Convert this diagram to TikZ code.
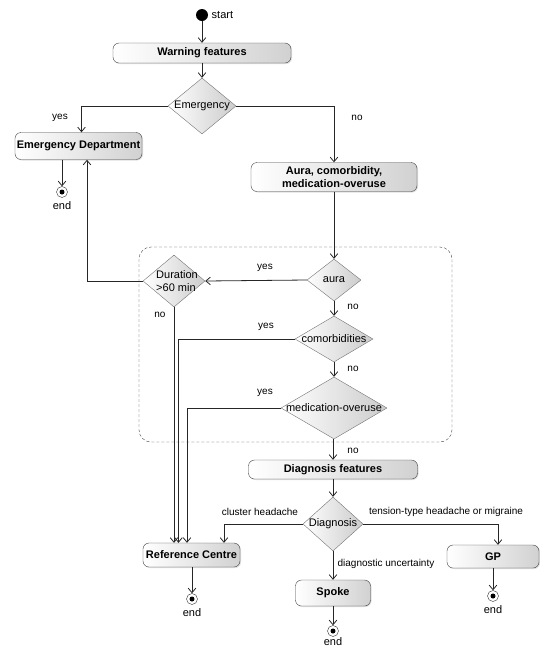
\documentclass[tikz,border=0pt]{standalone}
\usepackage{fontspec}
\setmainfont{Liberation Sans}
\usetikzlibrary{arrows.meta, shapes.geometric, shadows}

\begin{document}
\begin{tikzpicture}[x=1pt, y=-1pt, font=\fontsize{10}{12}\selectfont,
  act/.style={draw=black!75, rounded corners=6pt, left color=white, middle color=white, right color=black!18,
    drop shadow={shadow xshift=1pt, shadow yshift=-1pt, opacity=0.25},
    font=\fontsize{11}{12.5}\selectfont\bfseries, align=center, inner sep=0pt},
  dec/.style={diamond, draw=black!55, left color=white, middle color=white, right color=black!20, inner sep=0pt},
  init/.style={circle, fill=black, minimum size=12pt, inner sep=0pt},
  fin/.style={circle, draw=black!80, minimum size=11pt, inner sep=0pt,
    path picture={\fill (path picture bounding box.center) circle (2.5pt);}},
  every label/.style={font=\fontsize{11}{13}\selectfont},
  arr/.style={-{Straight Barb[length=4.5pt, width=7.5pt]}, black!85, line width=0.8pt}]
  \useasboundingbox (0,0) rectangle (540,649);

  % Frame round the checks
  \draw[black!75, dash pattern=on 3pt off 2pt, rounded corners=12pt] (139,247) rectangle (452,442);

  % Nodes
  \node[init, label=right:start] (start) at (202,15) {};
  \node[act, minimum width=178pt, minimum height=20pt] (warn) at (202,53) {Warning features};
  \node[dec, minimum width=68pt, minimum height=56pt, label=center:Emergency] (emerg) at (202,106) {};
  \node[act, minimum width=127pt, minimum height=27pt] (ed) at (78.5,146) {Emergency Department};
  \node[fin, label=below:end] (ed-end) at (62,192) {};
  \node[act, minimum width=166pt, minimum height=29pt] (aurabox) at (334,177) {Aura, comorbidity,\\medication-overuse};
  \node[dec, minimum width=54pt, minimum height=42pt, label=center:aura] (aura) at (334,280) {};
  \node[dec, minimum width=62pt, minimum height=52pt,
    label={[align=left, xshift=3pt]center:Duration\\>60 min}] (dur) at (174,281) {};
  \node[dec, minimum width=78pt, minimum height=46pt, label=center:comorbidities] (comorb) at (334,339) {};
  \node[dec, minimum width=106pt, minimum height=62pt, label=center:medication-overuse] (medic) at (334,408) {};
  \node[act, minimum width=169pt, minimum height=19pt] (diagf) at (333,469.5) {Diagnosis features};
  \node[dec, minimum width=60pt, minimum height=54pt, label=center:Diagnosis] (diag) at (333,524) {};
  \node[act, minimum width=97pt, minimum height=24pt] (ref) at (191.5,555) {Reference Centre};
  \node[fin, label=below:end] (ref-end) at (192,599) {};
  \node[act, minimum width=75pt, minimum height=26pt] (spoke) at (333,593) {Spoke};
  \node[fin, label={[yshift=3pt]below:end}] (spoke-end) at (333,631) {};
  \node[act, minimum width=92pt, minimum height=23pt] (gp) at (493,556.5) {GP};
  \node[fin, label=below:end] (gp-end) at (493,596) {};

  % Edge labels
  \node (yes-emerg) at (60,118) {yes};
  \node (no-emerg) at (357,118) {no};
  \node (yes-aura) at (265,268) {yes};
  \node (no-aura) at (353,307) {no};
  \node (no-dur) at (160,315) {no};
  \node (yes-comorb) at (266,327) {yes};
  \node (no-comorb) at (353,369) {no};
  \node (yes-medic) at (265,393) {yes};
  \node (no-medic) at (353,451) {no};
  \node (cluster) at (260,512) {cluster headache};
  \node (tension) at (446,512) {tension-type headache or migraine};
  \node (uncertain) at (386,564) {diagnostic uncertainty};

  % Straight arrows down the middle
  \foreach \a/\b in {start/warn, warn/emerg, aurabox/aura, aura/comorb, comorb/medic,
                     medic/diagf, diagf/diag, diag/spoke}
  {
    \draw[arr] (\a.south -| \b.north) -- (\b.north);
  }

  % Arrows to the end states
  \foreach \x in {ed, ref, spoke, gp}
  {
    \draw[arr] (\x.south -| \x-end) -- (\x-end);
  }

  % Branches
  \draw[arr] (emerg.west) -| ([xshift=3pt]ed.north);
  \draw[arr] (emerg.east) -| (aurabox.north);
  \draw[arr] (aura.west) -- (dur.east);
  \draw[arr] (dur.west) -| ([xshift=8.5pt]ed.south);
  \draw[arr] (dur.south) -- (dur.south |- ref.north);
  \draw[arr] (comorb.west) -| ([xshift=-13pt]ref.north);
  \draw[arr] (medic.west) -| ([xshift=-4.5pt]ref.north);
  \draw[arr] (diag.west) -| ([xshift=32.5pt]ref.north);
  \draw[arr] (diag.east) -| ([xshift=5pt]gp.north);
\end{tikzpicture}
\end{document}
